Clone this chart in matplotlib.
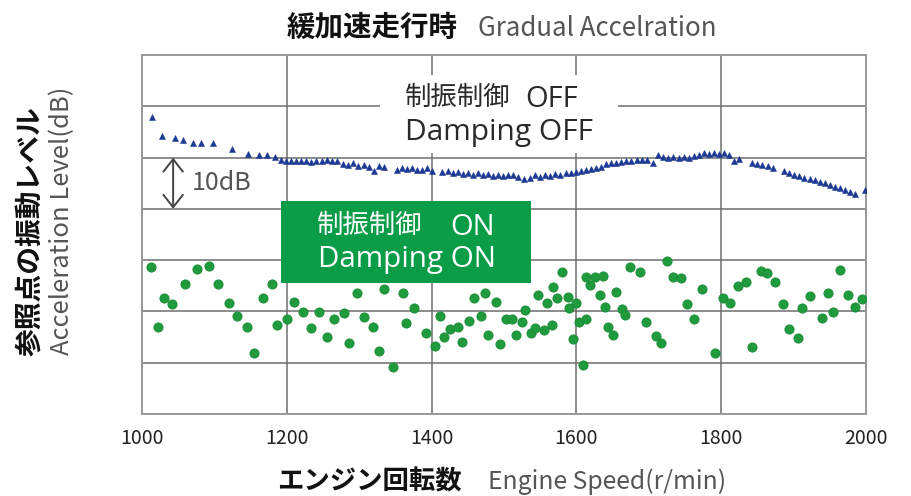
import matplotlib
matplotlib.use("Agg")
import matplotlib.pyplot as plt
from matplotlib.patches import Rectangle

# -------------------------------------------------------------------
# Data
# -------------------------------------------------------------------
# Damping OFF (triangles): engine speed [r/min], level [dB]
off_rpm = [1014, 1028, 1046, 1057, 1071, 1082, 1098, 1124, 1147, 1161, 1172, 1184,
           1192, 1199, 1206, 1213, 1220, 1227, 1234, 1241, 1248, 1255, 1262, 1269,
           1278, 1285, 1292, 1299, 1306, 1313, 1320, 1327, 1334,
           1352, 1359, 1366, 1373, 1380, 1387, 1394, 1401,
           1415, 1422, 1429, 1436, 1443, 1450, 1457, 1464, 1471, 1478, 1485, 1492,
           1499, 1506, 1513, 1520, 1527,
           1536, 1543, 1550, 1557, 1564, 1571, 1578, 1585, 1592, 1599,
           1606, 1613, 1620, 1627, 1634,
           1641, 1648, 1655, 1662, 1669, 1676, 1683, 1690, 1697, 1706,
           1713, 1720, 1727, 1734, 1741, 1748, 1755,
           1762, 1769, 1776, 1783, 1790, 1797, 1804, 1811, 1818, 1825,
           1843, 1850, 1857, 1864, 1871,
           1887, 1894, 1901, 1908, 1915, 1922, 1929, 1936, 1943, 1950, 1957,
           1964, 1971, 1978, 1985, 1998]
off_db = [58.0, 54.2, 53.9, 53.4, 52.8, 52.8, 52.8, 51.7, 50.7, 50.5, 50.5, 50.2,
          49.6, 49.4, 49.3, 49.4, 49.3, 49.4, 49.2, 49.4, 49.3, 49.5, 49.3, 49.4,
          48.8, 48.6, 48.9, 48.4, 48.6, 48.2, 47.4, 48.3, 48.1,
          47.6, 47.9, 47.7, 48.0, 47.6, 47.5, 47.9, 47.3,
          47.1, 47.3, 47.0, 47.2, 46.8, 47.0, 46.7, 46.9, 46.6, 46.8, 46.5, 46.7,
          46.4, 46.6, 46.6, 46.2, 45.8,
          46.0, 46.6, 46.3, 46.7, 46.5, 46.8, 46.7, 47.0, 46.9, 47.1,
          47.3, 47.6, 47.7, 48.0, 48.2,
          48.7, 48.9, 49.0, 49.2, 49.3, 49.4, 49.5, 49.6, 49.5, 48.9,
          50.5, 50.2, 50.0, 50.1, 49.9, 50.1, 50.0,
          50.3, 50.6, 50.8, 50.7, 50.8, 50.7, 50.8, 50.6, 49.4, 49.8,
          48.9, 48.7, 48.6, 48.3, 47.9,
          47.4, 47.0, 46.6, 46.4, 46.1, 45.8, 45.6, 45.2, 45.0, 44.6, 44.3,
          44.0, 43.6, 43.2, 42.9, 43.6]

# Damping ON (dots)
on_rpm = [1012, 1022, 1031, 1042, 1060, 1076, 1093, 1105, 1120, 1131, 1145, 1155,
          1167, 1179, 1187, 1200, 1210, 1223, 1233, 1245, 1256, 1265, 1279, 1286,
          1297, 1307, 1319, 1327, 1334, 1347, 1360, 1365, 1376, 1392, 1404, 1412,
          1417, 1425, 1436, 1442, 1452, 1458, 1468, 1474, 1478, 1489, 1495, 1503,
          1511, 1517, 1525, 1529, 1537, 1543, 1547, 1555, 1559, 1566, 1567, 1573,
          1580, 1588, 1590, 1595, 1600, 1604, 1609, 1613, 1613, 1619, 1626, 1632,
          1637, 1640, 1644, 1650, 1655, 1663, 1667, 1674, 1688, 1696, 1710, 1717,
          1725, 1733, 1744, 1753, 1762, 1773, 1791, 1802, 1812, 1823, 1834, 1843,
          1855, 1863, 1874, 1885, 1894, 1906, 1911, 1922, 1939, 1948, 1955, 1964,
          1975, 1985, 1995]
on_db = [28.7, 17.0, 22.6, 21.4, 25.3, 28.3, 28.9, 25.3, 21.6, 19.1, 17.0, 11.8,
         22.7, 25.3, 17.3, 18.5, 21.8, 19.9, 16.8, 19.9, 15.0, 18.5, 19.7, 13.9,
         23.5, 19.0, 17.0, 12.3, 24.4, 9.1, 23.6, 17.7, 20.7, 15.7, 13.3, 19.2,
         15.1, 16.5, 16.9, 14.0, 18.2, 22.7, 19.1, 23.5, 15.5, 21.9, 13.6, 18.5,
         18.5, 15.5, 18.0, 20.3, 15.7, 16.7, 23.2, 16.4, 21.7, 17.3, 24.8, 22.7,
         27.6, 22.9, 20.7, 14.6, 21.6, 17.9, 9.6, 18.5, 26.8, 25.1, 26.8, 23.2,
         26.9, 20.9, 17.0, 15.4, 23.7, 20.4, 19.4, 28.7, 27.6, 18.0, 15.3, 13.8,
         29.8, 26.8, 26.6, 21.4, 18.5, 24.3, 11.8, 22.7, 21.6, 25.0, 25.8, 13.0,
         27.9, 27.4, 25.8, 21.4, 16.5, 14.9, 20.7, 23.1, 18.8, 23.6, 19.9, 28.1,
         23.3, 20.9, 22.4]

x_ticks = [1000, 1200, 1400, 1600, 1800, 2000]
y_grid = [0, 10, 20, 30, 40, 50, 60, 70]

JP = ["Noto Sans CJK JP", "DejaVu Sans"]
LAT = ["Open Sans", "DejaVu Sans"]
plt.rcParams["font.family"] = JP

# -------------------------------------------------------------------
# Plotting
# -------------------------------------------------------------------
fig = plt.figure(figsize=(9.12, 4.96), dpi=100)
ax = fig.add_axes([0.1557, 0.1653, 0.7939, 0.7238])

ax.set_xlim(1000, 2000)
ax.set_ylim(0, 70)
ax.set_xticks(x_ticks)
ax.set_yticks(y_grid)
ax.set_yticklabels([])
ax.tick_params(axis="both", length=0)
ax.tick_params(axis="x", labelsize=14, labelcolor="#222222", pad=10)
ax.grid(True, color="#6e6e6e", linewidth=1.1, zorder=0)
for sp in ax.spines.values():
    sp.set_color("#9a9a9a")
    sp.set_linewidth(1.4)

ax.plot(off_rpm, off_db, linestyle="none", marker="^", markersize=5,
        color="#1c3a94", markeredgewidth=0.4, zorder=3)
ax.scatter(on_rpm, on_db, s=44, color="#1f9b3d", edgecolors="#1a8a35",
           linewidths=0.6, zorder=3)

# OFF label on white panel
ax.add_patch(Rectangle((0.3287, 0.727), 0.3287, 0.2173, transform=ax.transAxes,
                       facecolor="white", edgecolor="none", zorder=4))
ax.text(0.3633, 0.860, "制振制御", transform=ax.transAxes, family=JP,
        ha="left", va="baseline", fontsize=19, color="#2a2a2a", zorder=5)
ax.text(0.529, 0.855, "OFF", transform=ax.transAxes, family=LAT,
        ha="left", va="baseline", fontsize=21, color="#2a2a2a", zorder=5)
ax.text(0.3633, 0.763, "Damping OFF", transform=ax.transAxes, family=LAT,
        ha="left", va="baseline", fontsize=21.5, color="#2a2a2a", zorder=5)

# ON label on green panel
ax.add_patch(Rectangle((0.192, 0.365), 0.3453, 0.2284, transform=ax.transAxes,
                       facecolor="#0a9c47", edgecolor="none", zorder=4))
ax.text(0.2417, 0.503, "制振制御", transform=ax.transAxes, family=JP,
        ha="left", va="baseline", fontsize=19, color="white", zorder=5)
ax.text(0.4254, 0.4986, "ON", transform=ax.transAxes, family=LAT,
        ha="left", va="baseline", fontsize=21, color="white", zorder=5)
ax.text(0.2431, 0.4086, "Damping ON", transform=ax.transAxes, family=LAT,
        ha="left", va="baseline", fontsize=21.3, color="white", zorder=5)

# 10 dB scale arrow
ax.annotate("", xy=(1043, 40), xytext=(1043, 50),
            arrowprops=dict(arrowstyle="<->,head_length=0.45,head_width=0.35",
                            color="#444444", lw=1.4, shrinkA=0, shrinkB=0,
                            mutation_scale=20), zorder=5)
ax.text(1069, 45, "10dB", ha="left", va="center", fontsize=18,
        color="#555555", zorder=5)

# Title and axis labels
fig.text(0.3147, 0.9435, "緩加速走行時", ha="left", va="center",
         fontsize=20.5, fontweight="bold", color="#111111")
fig.text(0.524, 0.9435, "Gradual Accelration", ha="left", va="center",
         fontsize=18.6, color="#555555")
fig.text(0.3037, 0.028, "エンジン回転数", ha="left", va="center",
         fontsize=19, fontweight="bold", color="#111111")
fig.text(0.535, 0.028, "Engine Speed(r/min)", ha="left", va="center",
         fontsize=17.8, color="#555555")
fig.text(0.0335, 0.2823, "参照点の振動レベル", ha="center", va="bottom",
         rotation=90, fontsize=20, fontweight="bold", color="#111111")
fig.text(0.068, 0.2843, "Acceleration Level(dB)", ha="center", va="bottom",
         rotation=90, fontsize=18.4, color="#555555")

fig.savefig("out.png", dpi=100)
